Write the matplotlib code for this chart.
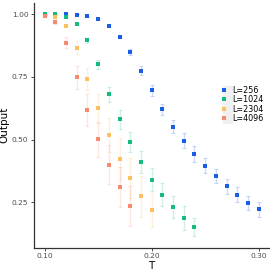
import matplotlib.pyplot as plt
import matplotlib.colors as mcolors
import numpy as np

labels = ["L=256", "L=1024", "L=2304", "L=4096"]
colors = ["#1a5ee6", "#14bb7a", "#fcc061", "#f7896c"]

T256 = [0.10, 0.11, 0.12, 0.13, 0.14, 0.15, 0.16, 0.17, 0.18, 0.19, 0.20,
        0.21, 0.22, 0.23, 0.24, 0.25, 0.26, 0.27, 0.28, 0.29, 0.30]
y256 = [1.000, 1.000, 1.000, 0.998, 0.992, 0.980, 0.953, 0.911, 0.848, 0.775, 0.697,
        0.621, 0.552, 0.495, 0.443, 0.396, 0.355, 0.315, 0.281, 0.248, 0.222]
e256 = [0.001, 0.001, 0.001, 0.002, 0.003, 0.004, 0.005, 0.006, 0.012, 0.017, 0.022,
        0.023, 0.027, 0.030, 0.030, 0.030, 0.028, 0.030, 0.030, 0.028, 0.030]

T1024 = [0.10, 0.11, 0.12, 0.13, 0.14, 0.15, 0.16, 0.17, 0.18, 0.19, 0.20,
         0.21, 0.22, 0.23, 0.24]
y1024 = [1.000, 1.000, 0.990, 0.961, 0.896, 0.800, 0.682, 0.581, 0.491, 0.411, 0.341,
         0.281, 0.231, 0.188, 0.152]
e1024 = [0.001, 0.001, 0.003, 0.005, 0.010, 0.019, 0.030, 0.039, 0.040, 0.042, 0.047,
         0.046, 0.044, 0.046, 0.036]

T2304 = [0.10, 0.11, 0.12, 0.13, 0.14, 0.15, 0.16, 0.17, 0.18, 0.19, 0.20]
y2304 = [0.995, 0.990, 0.955, 0.867, 0.743, 0.625, 0.519, 0.424, 0.346, 0.274, 0.218]
e2304 = [0.002, 0.003, 0.006, 0.025, 0.043, 0.058, 0.068, 0.083, 0.080, 0.083, 0.068]

T4096 = [0.10, 0.11, 0.12, 0.13, 0.14, 0.15, 0.16, 0.17, 0.18]
y4096 = [0.994, 0.969, 0.887, 0.749, 0.618, 0.502, 0.400, 0.311, 0.236]
e4096 = [0.002, 0.006, 0.023, 0.045, 0.064, 0.070, 0.077, 0.080, 0.080]

series = [(T256, y256, e256), (T1024, y1024, e1024),
          (T2304, y2304, e2304), (T4096, y4096, e4096)]
err_alpha = [0.22, 0.2, 0.22, 0.2]

fig = plt.figure(figsize=(2.73, 2.73), dpi=100)
ax = fig.add_axes([0.1245, 0.093, 0.862, 0.896])

handles = []
for (t, y, e), c, lab, a in zip(series, colors, labels, err_alpha):
    ec = mcolors.to_rgba(c, a)
    ax.errorbar(t, y, yerr=e, fmt="none", ecolor=ec, elinewidth=1.0,
                capsize=1.5, capthick=0.8)
    h, = ax.plot(t, y, "s", color=c, markersize=2.2, markeredgewidth=0, label=lab)
    handles.append(h)

ax.set_xlim(0.09, 0.31)
ax.set_ylim(0.0698, 1.045)
ax.set_xticks([0.10, 0.20, 0.30])
ax.set_xticklabels(["0.10", "0.20", "0.30"])
ax.set_yticks([0.25, 0.50, 0.75, 1.00])
ax.set_yticklabels(["0.25", "0.50", "0.75", "1.00"])

for s in ["top", "right"]:
    ax.spines[s].set_visible(False)
for s in ["left", "bottom"]:
    ax.spines[s].set_color("#333333")
    ax.spines[s].set_linewidth(0.9)
ax.tick_params(length=2.5, width=0.6, color="#333333", labelsize=5.4,
               labelcolor="#4d4d4d", pad=1.5)

ax.set_xlabel("T", fontsize=7.5, labelpad=1)
ax.set_ylabel("Output", fontsize=7.5)
ax.yaxis.set_label_coords(-0.105, 0.5)

leg = ax.legend(handles=handles, loc="center right", bbox_to_anchor=(1.0, 0.585),
                fontsize=5.8, frameon=False, handlelength=0.9, handletextpad=0.6,
                labelspacing=0.05, borderpad=0.2, markerscale=1.0)
leg.set_zorder(6)
# grey backdrop behind the legend keys
fig.canvas.draw()
bb = leg.get_window_extent()
inv = ax.transAxes.inverted()
x0, y0 = inv.transform((bb.x0 + 4, bb.y0 + 2))
x1, y1 = inv.transform((bb.x0 + 13, bb.y1 - 2))
ax.add_patch(plt.Rectangle((x0, y0), x1 - x0, y1 - y0, transform=ax.transAxes,
                           color="#f0f0f0", zorder=5, clip_on=False))

fig.savefig("out.png", dpi=100)
